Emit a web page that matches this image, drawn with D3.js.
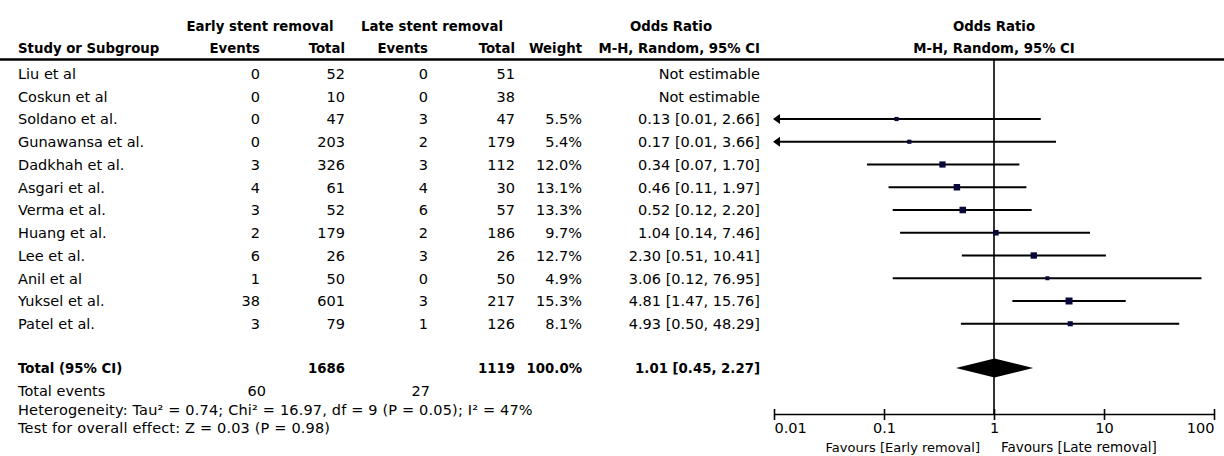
<!DOCTYPE html>
<html>
<head>
<meta charset="utf-8">
<script src="https://cdn.jsdelivr.net/npm/d3@7"></script>
<style>
body { margin: 0; background: #fff; }
svg text { font-family: "DejaVu Sans", sans-serif; fill: #000; font-size: 14.5px; }
svg text.bold { font-weight: bold; font-size: 13.3px; }
</style>
</head>
<body>
<div id="chart"></div>
<script>
var studies = ['Liu et al', 'Coskun et al', 'Soldano et al.', 'Gunawansa et al.', 'Dadkhah et al.', 'Asgari et al.',
    'Verma et al.', 'Huang et al.', 'Lee et al.', 'Anil et al', 'Yuksel et al.', 'Patel et al.'];
var earlyEvents = [0, 0, 0, 0, 3, 4, 3, 2, 6, 1, 38, 3];
var earlyTotal = [52, 10, 47, 203, 326, 61, 52, 179, 26, 50, 601, 79];
var lateEvents = [0, 0, 3, 2, 3, 4, 6, 2, 3, 0, 3, 1];
var lateTotal = [51, 38, 47, 179, 112, 30, 57, 186, 26, 50, 217, 126];
var weights = [null, null, 5.5, 5.4, 12.0, 13.1, 13.3, 9.7, 12.7, 4.9, 15.3, 8.1];
var oddsRatio = [null, null, 0.13, 0.17, 0.34, 0.46, 0.52, 1.04, 2.30, 3.06, 4.81, 4.93];
var ciLower = [null, null, 0.01, 0.01, 0.07, 0.11, 0.12, 0.14, 0.51, 0.12, 1.47, 0.50];
var ciUpper = [null, null, 2.66, 3.66, 1.70, 1.97, 2.20, 7.46, 10.41, 76.95, 15.76, 48.29];

var totalN = [1686, 1119];
var totalEvents = [60, 27];
var pooled = [1.01, 0.45, 2.27];
var axisTicks = [0.01, 0.1, 1, 10, 100];
var axisTickLabels = ['0.01', '0.1', '1', '10', '100'];
var footnotes = ['Heterogeneity: Tau² = 0.74; Chi² = 16.97, df = 9 (P = 0.05); I² = 47%',
    'Test for overall effect: Z = 0.03 (P = 0.98)'];

var width = 1224;
var height = 456;

var svg = d3.select('#chart').append('svg')
    .attr('width', width)
    .attr('height', height);

svg.append('rect')
    .attr('width', width)
    .attr('height', height)
    .attr('fill', '#fff');

// columns (right edges, except the study names)
var col = { study: 18, eEv: 260, eTot: 345, lEv: 428, lTot: 515, weight: 582, or: 760 };

var x = d3.scaleLog()
    .domain([0.01, 100])
    .range([774, 1214]);

var y = d3.scalePoint()
    .domain(studies)
    .range([73.5, 323.75]);

var boxSize = d3.scaleSqrt()
    .domain([0, 15.3])
    .range([0, 7]);

var axisY = 414;
var totalY = 368;

function fmt2 (v) { return v.toFixed(2); }

function addText (tx, ty, str, anchor, cls) {
    return svg.append('text')
        .attr('x', tx)
        .attr('y', ty)
        .attr('text-anchor', anchor || 'start')
        .attr('class', cls || null)
        .text(str);
}

// header
addText(260, 31, 'Early stent removal', 'middle', 'bold');
addText(432, 31, 'Late stent removal', 'middle', 'bold');
addText(671, 31, 'Odds Ratio', 'middle', 'bold');
addText(x(1), 31, 'Odds Ratio', 'middle', 'bold');
addText(col.study, 53, 'Study or Subgroup', 'start', 'bold');
addText(col.eEv, 53, 'Events', 'end', 'bold');
addText(col.eTot, 53, 'Total', 'end', 'bold');
addText(col.lEv, 53, 'Events', 'end', 'bold');
addText(col.lTot, 53, 'Total', 'end', 'bold');
addText(col.weight, 53, 'Weight', 'end', 'bold');
addText(col.or, 53, 'M-H, Random, 95% CI', 'end', 'bold');
addText(x(1), 53, 'M-H, Random, 95% CI', 'middle', 'bold');

svg.append('line')
    .attr('x1', 0)
    .attr('x2', width)
    .attr('y1', 59.5)
    .attr('y2', 59.5)
    .attr('stroke', '#000')
    .attr('stroke-width', 2.5);

// study rows
var rows = svg.append('g').attr('class', 'rows')
    .selectAll('g')
    .data(studies)
    .enter()
    .append('g')
    .attr('transform', function (d) { return 'translate(0,' + (y(d) + 5.3) + ')'; });

rows.append('text').attr('x', col.study).text(function (d) { return d; });
rows.append('text').attr('x', col.eEv).attr('text-anchor', 'end')
    .text(function (d, i) { return earlyEvents[i]; });
rows.append('text').attr('x', col.eTot).attr('text-anchor', 'end')
    .text(function (d, i) { return earlyTotal[i]; });
rows.append('text').attr('x', col.lEv).attr('text-anchor', 'end')
    .text(function (d, i) { return lateEvents[i]; });
rows.append('text').attr('x', col.lTot).attr('text-anchor', 'end')
    .text(function (d, i) { return lateTotal[i]; });
rows.append('text').attr('x', col.weight).attr('text-anchor', 'end')
    .text(function (d, i) { return weights[i] === null ? '' : weights[i].toFixed(1) + '%'; });
rows.append('text').attr('x', col.or).attr('text-anchor', 'end')
    .text(function (d, i) {
        if (oddsRatio[i] === null) {
            return 'Not estimable';
        }
        return fmt2(oddsRatio[i]) + ' [' + fmt2(ciLower[i]) + ', ' + fmt2(ciUpper[i]) + ']';
    });

// null line
svg.append('line')
    .attr('x1', x(1))
    .attr('x2', x(1))
    .attr('y1', 59.5)
    .attr('y2', axisY)
    .attr('stroke', '#000')
    .attr('stroke-width', 1.6);

// forest marks
var idx = d3.range(studies.length).filter(function (i) { return oddsRatio[i] !== null; });
var lo = x.domain()[0];
var hi = x.domain()[1];

var marks = svg.append('g').attr('class', 'marks')
    .selectAll('g')
    .data(idx)
    .enter()
    .append('g');

marks.append('line')
    .attr('x1', function (i) { return x(Math.max(ciLower[i], lo)) + (ciLower[i] <= lo ? 4 : 0); })
    .attr('x2', function (i) { return x(Math.min(ciUpper[i], hi)); })
    .attr('y1', function (i) { return y(studies[i]); })
    .attr('y2', function (i) { return y(studies[i]); })
    .attr('stroke', '#000')
    .attr('stroke-width', 2);

marks.filter(function (i) { return ciLower[i] <= lo; })
    .append('path')
    .attr('d', function (i) {
        var tx = x(lo) - 1;
        var ty = y(studies[i]);
        return 'M' + tx + ',' + ty + 'L' + (tx + 7) + ',' + (ty - 5) + 'L' + (tx + 7) + ',' + (ty + 5) + 'Z';
    })
    .attr('fill', '#000');

marks.append('rect')
    .attr('x', function (i) { return x(oddsRatio[i]) - boxSize(weights[i]) / 2; })
    .attr('y', function (i) { return y(studies[i]) - boxSize(weights[i]) / 2; })
    .attr('width', function (i) { return boxSize(weights[i]); })
    .attr('height', function (i) { return boxSize(weights[i]); })
    .attr('fill', '#08083a');

// total row
addText(col.study, totalY + 4.5, 'Total (95% CI)', 'start', 'bold');
addText(col.eTot, totalY + 4.5, totalN[0], 'end', 'bold');
addText(col.lTot, totalY + 4.5, totalN[1], 'end', 'bold');
addText(col.weight, totalY + 4.5, '100.0%', 'end', 'bold');
addText(col.or, totalY + 4.5, fmt2(pooled[0]) + ' [' + fmt2(pooled[1]) + ', ' + fmt2(pooled[2]) + ']', 'end', 'bold');

svg.append('path')
    .attr('d', 'M' + x(pooled[1]) + ',' + totalY +
        'L' + x(pooled[0]) + ',' + (totalY - 9.5) +
        'L' + x(pooled[2]) + ',' + totalY +
        'L' + x(pooled[0]) + ',' + (totalY + 9.5) + 'Z')
    .attr('fill', '#000');

addText(col.study, 396, 'Total events');
addText(266, 396, totalEvents[0], 'end');
addText(430, 396, totalEvents[1], 'end');
footnotes.forEach(function (f, i) {
    addText(col.study, 414.5 + i * 18.5, f)
        .style('letter-spacing', '0.17px');
});

// axis
var axis = d3.axisBottom(x)
    .tickValues(axisTicks)
    .tickFormat(function (d, i) { return axisTickLabels[i]; })
    .tickSizeInner(6)
    .tickSizeOuter(0);

var gAxis = svg.append('g')
    .attr('transform', 'translate(0,' + axisY + ')')
    .call(axis);

gAxis.attr('font-family', null).attr('font-size', null);
gAxis.select('.domain').attr('stroke', '#000').attr('stroke-width', 1.6);
gAxis.selectAll('.tick line').attr('y1', -5).attr('y2', 6).attr('stroke', '#000').attr('stroke-width', 1.6);
gAxis.selectAll('.tick text')
    .attr('fill', '#000')
    .attr('text-anchor', function (d, i) {
        if (i === 0) return 'start';
        if (i === axisTicks.length - 1) return 'end';
        return 'middle';
    });

svg.append('text')
    .attr('x', x(1) - 14)
    .attr('y', 452)
    .attr('text-anchor', 'end')
    .style('font-size', '13px')
    .text('Favours [Early removal]');

svg.append('text')
    .attr('x', x(1) + 7)
    .attr('y', 452)
    .attr('text-anchor', 'start')
    .style('font-size', '13.5px')
    .text('Favours [Late removal]');
</script>
</body>
</html>
